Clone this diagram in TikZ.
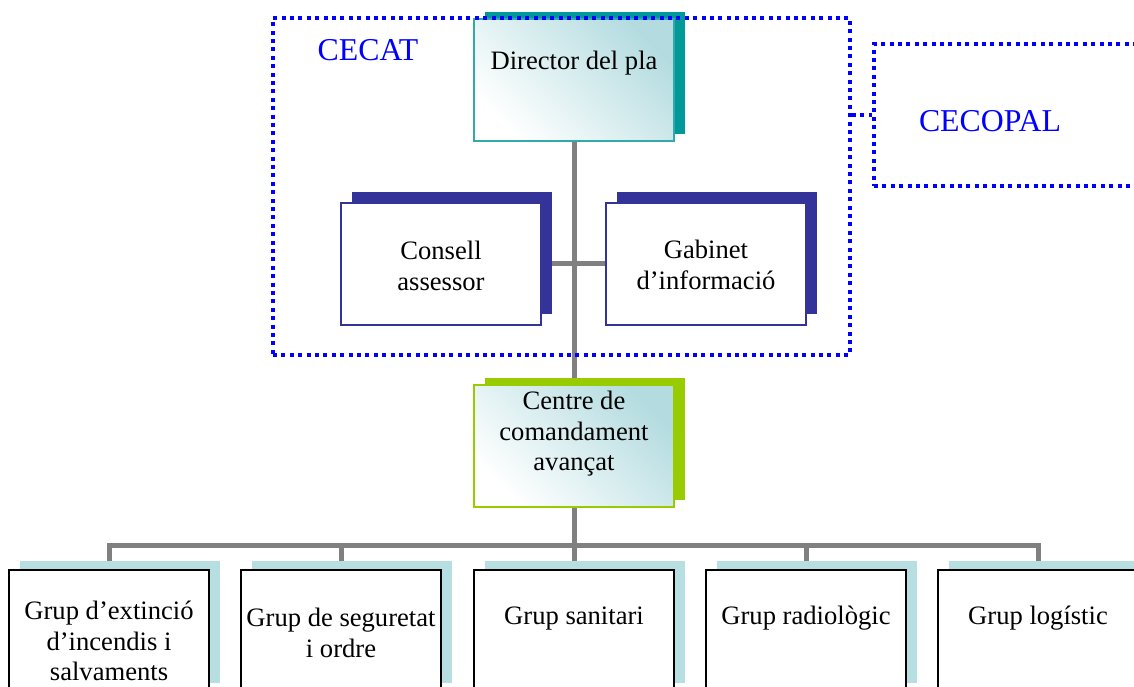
\documentclass[tikz,border=0pt]{standalone}
\usepackage{fontspec}
\setmainfont{Liberation Serif}
\usepackage{tikz}
\usetikzlibrary{positioning,backgrounds}
\usepackage{xcolor}
\definecolor{tealdark}{HTML}{009999}
\definecolor{tealline}{HTML}{33A9A9}
\definecolor{tealpale}{HTML}{B4DCE0}
\definecolor{navybox}{HTML}{333399}
\definecolor{limebox}{HTML}{99CC00}
\definecolor{paleback}{HTML}{B7DFE1}
\definecolor{linkgray}{HTML}{808080}
\definecolor{cecblue}{HTML}{0000FF}

\begin{document}
\begin{tikzpicture}[x=1pt,y=1pt,
	boxtext/.style={font=\fontsize{26.6}{30.5}\selectfont,align=center,inner sep=0pt},
	tag/.style={font=\fontsize{31.8}{36}\selectfont,text=cecblue,inner sep=0pt},
	front/.style={rectangle,minimum width=200pt,minimum height=122pt,inner sep=0pt},
	back/.style={front,draw=none},
	shaded/.style={front,line width=2pt,top color=tealpale,bottom color=white,shading angle=-45},
	link/.style={draw=linkgray,line width=5pt},
	dotframe/.style={draw=cecblue,line width=3.6pt,dash pattern=on 4pt off 4.4pt}]
\useasboundingbox (0,0) rectangle (1134,686);
\clip (0,0) rectangle (1134,686);

\coordinate (barmid) at (574,141);

\node[back,fill=tealdark] (dirsh) at (585,613) {};
\node[shaded,draw=tealline] (dir) at (574,606) {};
\node[boxtext,below=33pt of dir.north] (dirtext) {Director del pla};

\node[back,fill=navybox] (consh) at (452,433) {};
\node[front,draw=navybox,line width=1.5pt,fill=white] (con) at (441,422) {};
\node[boxtext,below=39pt of con.north] (context) {Consell\\assessor};

\node[back,fill=navybox] (gabsh) at (717,433) {};
\node[front,draw=navybox,line width=1.5pt,fill=white] (gab) at (706,422) {};
\node[boxtext,below=38pt of gab.north] (gabtext) {Gabinet\\d’informació};

\node[back,fill=limebox] (ccash) at (585,247) {};
\node[shaded,draw=limebox] (cca) at (574,240) {};
\node[boxtext,below=7pt of cca.north] (ccatext) {Centre de\\comandament\\avançat};

\foreach \n/\x in {1/109,2/341,3/574,4/806,5/1038}{
  \node[back,fill=paleback] (g\n sh) at (\x+11,64) {};
  \node[front,draw=black,line width=2pt,fill=white] (g\n) at (\x,55) {};
}
\node[boxtext,below=32pt of g1.north] (g1text) {Grup d’extinció\\d’incendis i\\salvaments};
\node[boxtext,below=39pt of g2.north] (g2text) {Grup de seguretat\\i ordre};
\node[boxtext,below=38pt of g3.north] (g3text) {Grup sanitari};
\node[boxtext,below=37pt of g4.north] (g4text) {Grup radiològic};
\node[boxtext,below=37pt of g5.north] (g5text) {Grup logístic};

\begin{pgfonlayer}{background}
\draw[link] (dir.south) -- (cca.north);
\draw[link] (con.east) -- (gab.west);
\draw[link] (cca.south) -- (barmid);
\draw[link] (g1.north) |- (barmid) -| (g5.north);
\foreach \n in {2,3,4}
  \draw[link] (g\n.north) -- (g\n.north |- barmid);
\end{pgfonlayer}

% CECAT and CECOPAL
\node[dotframe,minimum width=577pt,minimum height=337pt] (cecat) at (561.5,499.5) {};
\node[dotframe,minimum width=300pt,minimum height=142pt] (cecopal) at (1024,571) {};
\draw[dotframe] (cecat.east |- cecopal.west) -- (cecopal.west);
\node[tag] (cecatlabel) at (368,636) {CECAT};
\node[tag] (cecopallabel) at (990,565) {CECOPAL};
\end{tikzpicture}
\end{document}
